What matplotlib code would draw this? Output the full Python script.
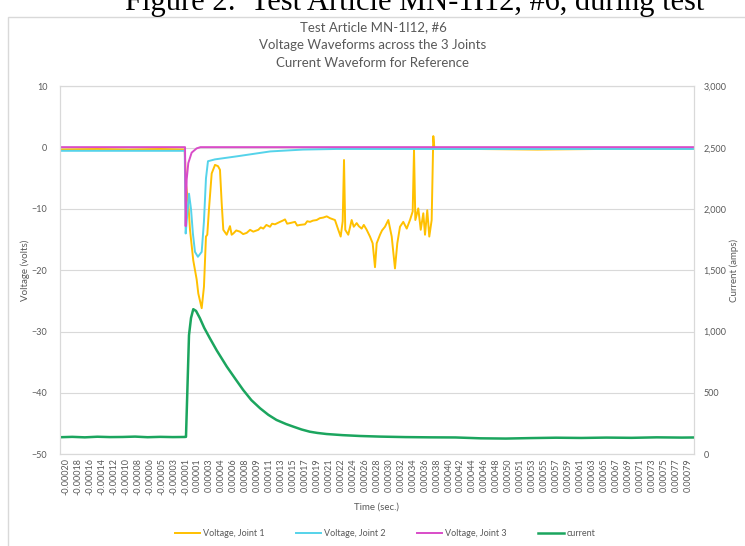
import numpy as np
import matplotlib.pyplot as plt
from matplotlib.patches import Rectangle
from matplotlib.ticker import FuncFormatter

plt.rcParams['font.family'] = ['Lato', 'DejaVu Sans']

# category labels printed under the time axis
time_labels = [
    '-0.00020', '-0.00018', '-0.00016', '-0.00014', '-0.00012', '-0.00010',
    '-0.00008', '-0.00006', '-0.00005', '-0.00003', '-0.00001',
    '0.00001', '0.00003', '0.00004', '0.00006', '0.00008', '0.00009',
    '0.00011', '0.00013', '0.00015', '0.00017', '0.00019', '0.00021',
    '0.00022', '0.00024', '0.00026', '0.00028', '0.00030', '0.00032',
    '0.00034', '0.00036', '0.00038', '0.00040', '0.00042', '0.00044',
    '0.00046', '0.00048', '0.00050', '0.00051', '0.00053', '0.00055',
    '0.00057', '0.00059', '0.00061', '0.00063', '0.00065', '0.00067',
    '0.00069', '0.00071', '0.00073', '0.00075', '0.00077', '0.00079',
]

# all times in microseconds
joint1_t = [-209, -150, -100, -50, -11, -9, -5.3, -2.6, 2.6, 8, 10.6, 16, 19.6,
            22.8, 24.9, 27.6, 31.9, 37.2, 41.9, 45.1, 47.8, 50.4, 55.8, 61, 63.7,
            66.3, 71, 76.9, 82, 87.6, 93, 98.1, 106.1, 110, 114, 119, 124.7, 128,
            132.6, 140.6, 145, 148.6, 152, 156.5, 164.5, 168, 172.4, 180.4, 184,
            188.4, 193, 199, 204, 209.5, 215, 220.2, 228.1, 233.4, 237.2, 240.4,
            242.5, 244.5, 249.3, 254.7, 258, 262.7, 266, 270.6, 274, 278.6, 283.8,
            288.1, 291.8, 294.5, 299.8, 303, 307.7, 313, 318.4, 323.6, 327.3,
            331.6, 336.8, 342.3, 347.5, 351.8, 353.9, 356, 360.7, 364.6, 368.7,
            371.4, 375, 378.2, 382, 384.6, 386.5, 450, 550, 650, 801]
joint1_v = [-0.3, -0.2, -0.3, -0.2, -0.3, -6, -9.0, -13.4, -18.4, -21.5, -23.8,
            -26.2, -22.7, -14.5, -14.2, -10, -4.2, -2.8, -3.0, -3.6, -9.0, -13.4,
            -14.2, -12.8, -14.2, -14.0, -13.5, -13.7, -14.1, -13.9, -13.4, -13.7,
            -13.4, -13.0, -13.2, -12.6, -12.9, -12.4, -12.5, -12.1, -11.9, -11.7,
            -12.4, -12.3, -12.1, -12.7, -12.6, -12.5, -12.0, -12.1, -11.9, -11.8,
            -11.5, -11.4, -11.2, -11.5, -11.8, -13.4, -14.5, -12.0, -2.0, -13.4,
            -14.2, -11.8, -12.9, -12.3, -12.8, -13.2, -12.6, -13.4, -14.5, -15.6,
            -19.5, -15.6, -14.2, -13.5, -12.9, -11.8, -14.5, -19.7, -15.6, -12.9,
            -12.1, -13.2, -11.8, -10.4, -0.3, -11.8, -9.9, -13.4, -10.7, -14.2,
            -10.2, -14.5, -11.8, 1.9, -0.2, -0.2, -0.3, -0.2, -0.2]

joint2_t = [-209, -100, -11, -9.5, -7, -4.2, -1, 2, 5.3, 10, 16, 19.6, 22.8, 26,
            37, 72, 125, 177, 230, 801]
joint2_v = [-0.5, -0.5, -0.5, -14, -11, -7.5, -10, -14, -17, -17.8, -17, -12,
            -5, -2.2, -1.9, -1.4, -0.6, -0.3, -0.2, -0.2]

joint3_t = [-209, -100, -10.5, -9.5, -7.9, -5.3, 0, 8, 14, 801]
joint3_v = [0.1, 0.1, 0.1, -12.8, -5.2, -2.5, -0.8, -0.1, 0.1, 0.1]

current_t = [-209, -190, -170, -150, -130, -110, -90, -70, -50, -30, -11, -9,
             -4.2, -1, 2.6, 7, 13, 20, 29, 40, 56, 70, 82, 95, 109, 122, 135,
             150, 162, 175, 188, 200, 215, 240, 268, 300, 340, 380, 420, 460,
             500, 540, 580, 620, 660, 700, 740, 780, 801]
current_a = [137, 140, 136, 141, 138, 139, 142, 137, 140, 138, 139, 140,
             970, 1110, 1182, 1168, 1110, 1030, 945, 845, 713, 610, 523, 440,
             373, 320, 278, 245, 223, 200, 182, 172, 163, 154, 147, 142, 138,
             136, 135, 128, 126, 130, 133, 131, 134, 132, 136, 134, 135]

grey = '#595959'
fig = plt.figure(figsize=(7.45, 5.46), dpi=100)

# caption of the page above the chart (cut off at the top, as in the source)
fig.text(0.557, 1 - 10 / 546, 'Figure 2:  Test Article MN-1I12, #6, during test',
         family=['Liberation Serif', 'DejaVu Serif'], fontsize=22,
         ha='center', va='baseline')
fig.patches.append(Rectangle((8 / 745, -0.01), 1.0, 1 - 17 / 546 + 0.01,
                             transform=fig.transFigure, fill=False,
                             edgecolor='#D9D9D9', lw=1))

ax = fig.add_axes([60 / 745, 92 / 546, 634 / 745, 367.5 / 546])
ax2 = ax.twinx()

l1, = ax.plot(joint1_t, joint1_v, color='#FFC000', lw=1.4, label='Voltage, Joint 1')
l2, = ax.plot(joint2_t, joint2_v, color='#55D3EA', lw=1.4, label='Voltage, Joint 2')
l3, = ax.plot(joint3_t, joint3_v, color='#D94CC8', lw=1.4, label='Voltage, Joint 3')
l4, = ax2.plot(current_t, current_a, color='#1BA55E', lw=1.8, label='current')

ax.set_xlim(-209.5, 799.5)
ax.set_ylim(-50, 10)
ax.set_yticks(np.arange(-50, 11, 10))
ax2.set_ylim(0, 3000)
ax2.set_yticks(np.arange(0, 3001, 500))
ax2.yaxis.set_major_formatter(FuncFormatter(lambda v, p: f'{v:,.0f}'))

ax.set_xticks(np.linspace(-200, 790, len(time_labels)))
ax.set_xticklabels(time_labels, rotation=90)
ax.grid(axis='y', color='#D9D9D9', lw=0.8)
ax.set_axisbelow(True)

for a in (ax, ax2):
    a.tick_params(length=0, labelsize=6.5, colors=grey)
    for s in a.spines.values():
        s.set_color('#D9D9D9')
ax.tick_params(axis='y', pad=9)
ax2.tick_params(axis='y', pad=7)
ax.tick_params(axis='x', pad=3)

ax.set_ylabel('Voltage (volts)', fontsize=7, color=grey, labelpad=1)
ax2.set_ylabel('Current (amps)', fontsize=7, color=grey, labelpad=2)
ax.set_xlabel('Time (sec.)', fontsize=7, color=grey, labelpad=5)

fig.text(373 / 745, 1 - 27 / 546, 'Test Article MN-1I12, #6', ha='center',
         va='center', fontsize=9.5, color=grey)
fig.text(373 / 745, 1 - 45 / 546, 'Voltage Waveforms across the 3 Joints',
         ha='center', va='center', fontsize=9.5, color=grey)
fig.text(373 / 745, 1 - 63 / 546, 'Current Waveform for Reference', ha='center',
         va='center', fontsize=9.5, color=grey)

leg = fig.legend(handles=[l1, l2, l3, l4], loc='center', ncol=4,
                 bbox_to_anchor=(385 / 745, 12 / 546), frameon=False,
                 fontsize=6.5, handlelength=2.8, columnspacing=3.5,
                 handletextpad=0.3)
for t in leg.get_texts():
    t.set_color(grey)

fig.savefig('out.png', dpi=100)
